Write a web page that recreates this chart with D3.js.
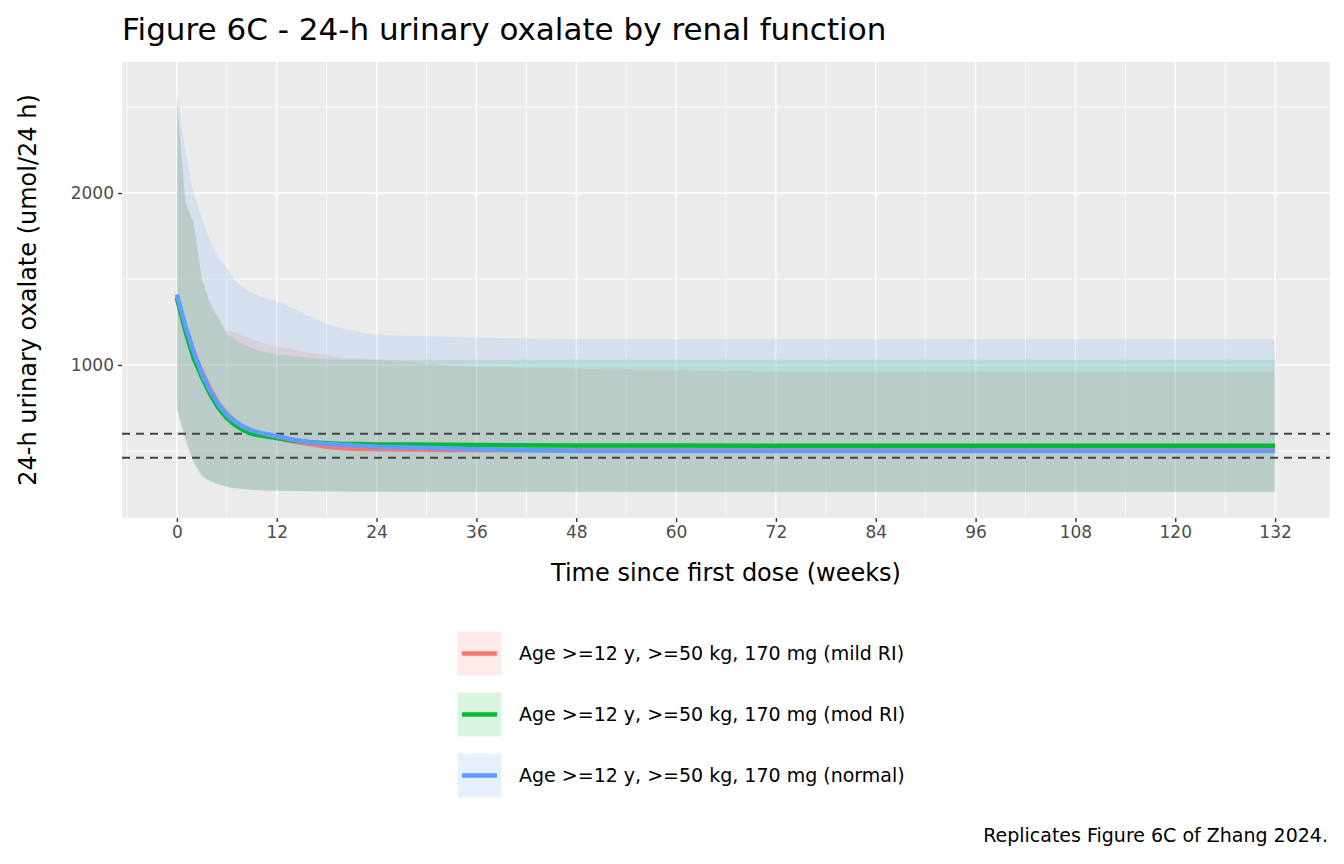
<!DOCTYPE html>
<meta charset="utf-8">
<style>
body { margin: 0; background: #fff; }
text { font-family: "DejaVu Sans", sans-serif; }
.grid-major { stroke: #fff; stroke-width: 1.4; }
.grid-minor { stroke: #fff; stroke-width: 0.7; }
</style>
<body>
<script src="https://d3js.org/d3.v7.min.js"></script>
<script>
// data
var weeks = [0,1,2,3,4,5,6,7,8,9,10,12,14,16,18,20,22,24,28,32,36,40,48,60,72,84,96,108,120,132];

var mildMed = [1390,1220,1070,960,860,775,715,670,635,610,595,575,555,540,525,515,512,510,508,506,505,505,505,505,505,505,505,505,505,505];
var mildLo  = [760,580,440,360,330,310,295,285,280,275,272,270,268,266,265,265,264,264,263,263,262,262,262,262,262,262,262,262,262,262];
var mildHi  = [2540,1950,1820,1500,1350,1270,1200,1190,1170,1150,1130,1110,1090,1070,1060,1040,1040,1030,1020,1000,990,985,980,970,960,960,960,960,960,960];

var modMed  = [1390,1200,1040,930,830,750,690,650,620,600,590,575,560,550,545,540,540,538,537,536,535,533,532,531,530,530,530,530,530,530];
var modLo   = [740,560,430,350,320,305,290,282,277,273,270,268,266,265,264,264,263,263,262,262,262,262,262,262,262,262,262,262,262,262];
var modHi   = [2550,1950,1830,1500,1360,1270,1180,1150,1120,1100,1080,1060,1050,1040,1035,1030,1030,1030,1030,1030,1030,1030,1030,1030,1030,1030,1030,1030,1030,1030];

var normMed = [1410,1230,1080,950,850,770,710,670,640,620,605,585,565,550,540,535,530,525,520,515,510,505,500,500,500,500,500,500,500,500];
var normLo  = [760,580,440,360,325,305,292,284,278,274,271,269,267,265,264,263,262,262,262,262,261,261,261,260,260,260,260,260,260,260];
var normHi  = [2580,2250,2000,1850,1720,1620,1560,1490,1450,1420,1400,1370,1330,1280,1240,1210,1190,1175,1168,1165,1160,1155,1150,1150,1150,1150,1150,1150,1150,1150];

var groups = ["Age >=12 y, >=50 kg, 170 mg (mild RI)", "Age >=12 y, >=50 kg, 170 mg (mod RI)", "Age >=12 y, >=50 kg, 170 mg (normal)"];
var colors = ["#F8766D", "#00BA38", "#619CFF"];
var refLines = [600, 460];
var xTicks = [0,12,24,36,48,60,72,84,96,108,120,132];
var yTicks = [1000, 2000];
var yMinor = [500, 1500, 2500];

var series = [
  {name: groups[0], med: mildMed, lo: mildLo, hi: mildHi},
  {name: groups[1], med: modMed, lo: modLo, hi: modHi},
  {name: groups[2], med: normMed, lo: normLo, hi: normHi}
];

var W = 1344, H = 864;
var L = 122, R = 1330, T = 62, B = 518;

var svg = d3.select("body").append("svg").attr("width", W).attr("height", H);

var x = d3.scaleLinear().domain([-6.6, 138.6]).range([L, R]);
var y = d3.scaleLinear().domain([110, 2762]).range([B, T]);

svg.append("rect").attr("x", L).attr("y", T).attr("width", R - L).attr("height", B - T).attr("fill", "#EBEBEB");

// grid
var xMinor = xTicks.slice(0, -1).map(function(d) { return d + 6; }).concat([-6]);
svg.selectAll(".gxm").data(xMinor).enter().append("line").attr("class", "grid-minor")
  .attr("x1", function(d) { return x(d); }).attr("x2", function(d) { return x(d); }).attr("y1", T).attr("y2", B);
svg.selectAll(".gym").data(yMinor).enter().append("line").attr("class", "grid-minor")
  .attr("x1", L).attr("x2", R).attr("y1", function(d) { return y(d); }).attr("y2", function(d) { return y(d); });
svg.selectAll(".gx").data(xTicks).enter().append("line").attr("class", "grid-major")
  .attr("x1", function(d) { return x(d); }).attr("x2", function(d) { return x(d); }).attr("y1", T).attr("y2", B);
svg.selectAll(".gy").data(yTicks).enter().append("line").attr("class", "grid-major")
  .attr("x1", L).attr("x2", R).attr("y1", function(d) { return y(d); }).attr("y2", function(d) { return y(d); });

svg.append("clipPath").attr("id", "clip").append("rect")
  .attr("x", L).attr("y", T).attr("width", R - L).attr("height", B - T);
var plot = svg.append("g").attr("clip-path", "url(#clip)");

var area = d3.area()
  .x(function(d, i) { return x(weeks[i]); })
  .y0(function(d) { return y(d[0]); })
  .y1(function(d) { return y(d[1]); });
var line = d3.line()
  .x(function(d, i) { return x(weeks[i]); })
  .y(function(d) { return y(d); });

series.forEach(function(s, k) {
  plot.append("path")
    .datum(s.lo.map(function(v, i) { return [v, s.hi[i]]; }))
    .attr("d", area).attr("fill", colors[k]).attr("fill-opacity", 0.15);
});
refLines.forEach(function(v) {
  plot.append("line").attr("x1", L).attr("x2", R).attr("y1", y(v)).attr("y2", y(v))
    .attr("stroke", "#444").attr("stroke-width", 2).attr("stroke-dasharray", "8,6");
});
series.forEach(function(s, k) {
  plot.append("path").datum(s.med).attr("d", line)
    .attr("fill", "none").attr("stroke", colors[k]).attr("stroke-width", 4.5);
});

// axes
var xAxis = svg.append("g").attr("transform", "translate(0," + B + ")")
  .call(d3.axisBottom(x).tickValues(xTicks).tickSize(4).tickPadding(4));
var yAxis = svg.append("g").attr("transform", "translate(" + L + ",0)")
  .call(d3.axisLeft(y).tickValues(yTicks).tickFormat(d3.format("d")).tickSize(4).tickPadding(4));
[xAxis, yAxis].forEach(function(a) {
  a.select(".domain").remove();
  a.selectAll("line").attr("stroke", "#333").attr("stroke-width", 1.4);
  a.selectAll("text").attr("fill", "#4D4D4D").style("font-size", "17px").style("font-family", "DejaVu Sans");
});

svg.append("text").attr("x", 122).attr("y", 40).attr("font-size", 31).text("Figure 6C - 24-h urinary oxalate by renal function");
svg.append("text").attr("x", (L + R) / 2).attr("y", 581).attr("text-anchor", "middle").attr("font-size", 24)
  .text("Time since first dose (weeks)");
svg.append("text").attr("transform", "translate(36," + (T + B) / 2 + ") rotate(-90)")
  .attr("text-anchor", "middle").attr("font-size", 24).text("24-h urinary oxalate (umol/24 h)");

// legend
var lg = svg.append("g").attr("transform", "translate(457,631)");
series.forEach(function(s, k) {
  var g = lg.append("g").attr("transform", "translate(0," + k * 61 + ")");
  g.append("rect").attr("width", 45).attr("height", 45).attr("fill", colors[k]).attr("fill-opacity", 0.15)
    .attr("stroke", "#fff");
  g.append("line").attr("x1", 5).attr("x2", 40).attr("y1", 22.5).attr("y2", 22.5)
    .attr("stroke", colors[k]).attr("stroke-width", 4.5);
  g.append("text").attr("x", 62).attr("y", 29).attr("font-size", 19).text(s.name);
});

svg.append("text").attr("x", 1328).attr("y", 842).attr("text-anchor", "end").attr("font-size", 19)
  .text("Replicates Figure 6C of Zhang 2024.");
</script>
</body>
